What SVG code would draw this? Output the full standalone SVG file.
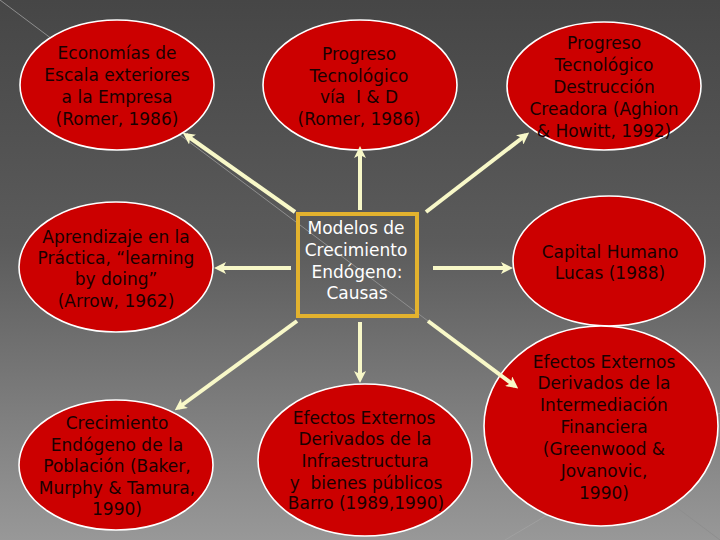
<svg xmlns="http://www.w3.org/2000/svg" width="720" height="540" viewBox="0 0 720 540">
<defs>
<linearGradient id="bg" x1="0" y1="0" x2="0" y2="1">
<stop offset="0" stop-color="#464646"/>
<stop offset="0.45" stop-color="#5b5b5b"/>
<stop offset="1" stop-color="#989898"/>
</linearGradient>
<marker id="ah" viewBox="0 0 12 12" refX="8" refY="6" markerWidth="12" markerHeight="12" markerUnits="userSpaceOnUse" orient="auto">
<path d="M0,0 L12,6 L0,12 L3,6 Z" fill="#f8f8c8"/>
</marker>
</defs>
<style>
.node ellipse{fill:#cc0000;stroke:#ffffff;stroke-width:1.6}
.node text{font-family:"DejaVu Sans","Liberation Sans",sans-serif;font-size:17px;fill:#1a0000;text-anchor:middle}
#center text{fill:#ffffff}
.conn line{stroke:#f8f8c8;stroke-width:4;marker-end:url(#ah)}
</style>
<rect x="0" y="0" width="720" height="540" fill="url(#bg)"/>
<line x1="0" y1="0" x2="720" y2="540" stroke="#8e8e8e" stroke-width="1"/>
<line x1="505" y1="540" x2="720" y2="413" stroke="#a0a0a0" stroke-width="1"/>

<g id="n-economias" class="node">
<ellipse cx="117" cy="85" rx="97" ry="65"/>
<text x="117" y="59">Economías de</text>
<text x="117" y="81">Escala exteriores</text>
<text x="117" y="103">a la Empresa</text>
<text x="117" y="125">(Romer, 1986)</text>
</g>
<g id="n-progreso-id" class="node">
<ellipse cx="360" cy="85" rx="97" ry="65"/>
<text x="359" y="60">Progreso</text>
<text x="359" y="82">Tecnológico</text>
<text x="359" y="103">vía&#160; I &amp; D</text>
<text x="359" y="125">(Romer, 1986)</text>
</g>
<g id="n-destruccion" class="node">
<ellipse cx="604" cy="86" rx="97" ry="64"/>
<text x="604" y="49">Progreso</text>
<text x="604" y="71">Tecnológico</text>
<text x="604" y="93">Destrucción</text>
<text x="604" y="115">Creadora (Aghion</text>
<text x="604" y="137">&amp; Howitt, 1992)</text>
</g>
<g id="n-aprendizaje" class="node">
<ellipse cx="116" cy="267" rx="97" ry="65"/>
<text x="116" y="243">Aprendizaje en la</text>
<text x="116" y="264">Práctica, “learning</text>
<text x="116" y="285">by doing”</text>
<text x="116" y="307">(Arrow, 1962)</text>
</g>
<g id="center" class="node">
<rect x="298" y="214" width="119" height="102" fill="none" stroke="#e3b22e" stroke-width="4"/>
<text x="356" y="234">Modelos de</text>
<text x="356" y="256">Crecimiento</text>
<text x="357" y="278">Endógeno:</text>
<text x="357" y="299">Causas</text>
</g>
<g id="n-capital" class="node">
<ellipse cx="609" cy="261" rx="96" ry="65"/>
<text x="610" y="258">Capital Humano</text>
<text x="610" y="279">Lucas (1988)</text>
</g>
<g id="n-poblacion" class="node">
<ellipse cx="116" cy="465" rx="97" ry="65"/>
<text x="117" y="429">Crecimiento</text>
<text x="117" y="451">Endógeno de la</text>
<text x="117" y="472">Población (Baker,</text>
<text x="117" y="494">Murphy &amp; Tamura,</text>
<text x="117" y="515">1990)</text>
</g>
<g id="n-infraestructura" class="node">
<ellipse cx="365" cy="460" rx="107" ry="76"/>
<text x="364" y="424">Efectos Externos</text>
<text x="365" y="445">Derivados de la</text>
<text x="365" y="467">Infraestructura</text>
<text x="366" y="489">y&#160; bienes públicos</text>
<text x="366" y="509">Barro (1989,1990)</text>
</g>
<g id="n-financiera" class="node">
<ellipse cx="601" cy="426" rx="117" ry="100"/>
<text x="604" y="368">Efectos Externos</text>
<text x="604" y="389">Derivados de la</text>
<text x="604" y="411">Intermediación</text>
<text x="604" y="433">Financiera</text>
<text x="604" y="455">(Greenwood &amp;</text>
<text x="604" y="477">Jovanovic,</text>
<text x="604" y="499">1990)</text>
</g>

<g id="connectors" class="conn">
<line x1="295" y1="212" x2="186" y2="135"/>
<line x1="360" y1="210" x2="360" y2="150"/>
<line x1="426" y1="212" x2="526" y2="135"/>
<line x1="291" y1="268" x2="218" y2="268"/>
<line x1="433" y1="268" x2="509" y2="268"/>
<line x1="297" y1="321" x2="178" y2="408"/>
<line x1="360" y1="322" x2="360" y2="379"/>
<line x1="428" y1="321" x2="515" y2="386"/>
</g>
</svg>
